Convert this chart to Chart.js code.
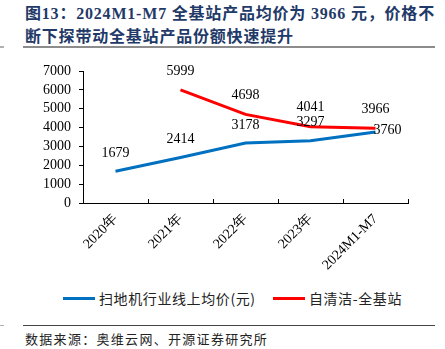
<!DOCTYPE html>
<html>
<head>
<meta charset="utf-8">
<script src="https://cdn.jsdelivr.net/npm/chart.js@4.4.1/dist/chart.umd.min.js"></script>
<style>
    body { margin: 0; width: 445px; height: 349px; background: #fff; position: relative; overflow: hidden; }
    .title {
        position: absolute; left: 25px; top: 2px;
        font: bold 16px "Liberation Serif", "Noto Sans CJK SC", serif;
        letter-spacing: 0.8px; line-height: 23px; color: #1F3A68; white-space: nowrap;
    }
    .rule { position: absolute; left: 23px; width: 412px; background: #8c8c8c; }
    .stub { position: absolute; left: 0; width: 4px; background: #b0b0b0; }
    .source {
        position: absolute; left: 25px; top: 329px;
        font: 13px "Noto Sans CJK SC", sans-serif; letter-spacing: 1.3px; color: #222; white-space: nowrap;
    }
    #wrap { position: absolute; left: 0; top: 50px; width: 445px; height: 232px; }
    .legend { position: absolute; top: 288px; height: 20px; font: 14px "Noto Sans CJK SC", sans-serif;
        letter-spacing: 0.6px; color: #222; line-height: 20px; white-space: nowrap; }
    .legend i { position: absolute; top: 9px; width: 32px; height: 3px; }
    .legend span { position: absolute; top: 0; }
</style>
</head>
<body>
<div class="title">图13：2024M1-M7 全基站产品均价为 3966 元，价格不<br>断下探带动全基站产品份额快速提升</div>
<div class="rule" style="top:46px;height:2px"></div>
<div class="stub" style="top:46px;height:2px"></div>
<div id="wrap"><canvas id="chart"></canvas></div>
<div class="legend" id="legend"></div>
<div class="rule" style="top:325px;height:1px;background:#444"></div>
<div class="stub" style="top:325px;height:1px"></div>
<div class="source">数据来源：奥维云网、开源证券研究所</div>

<script>
// Data
const categories = ['2020年', '2021年', '2022年', '2023年', '2024M1-M7'];
const avgPrice = [1679, 2414, 3178, 3297, 3760];        // 扫地机行业线上均价(元)
const baseStation = [null, 5999, 4698, 4041, 3966];      // 自清洁-全基站
const yMin = 0;
const yMax = 7000;
const yStep = 1000;

const SERIF = '"Liberation Serif", "Times New Roman", serif';

// value labels above points (last blue one sits to the right)
const valueLabels = {
    id: 'valueLabels',
    afterDatasetsDraw(chart) {
        const ctx = chart.ctx;
        ctx.save();
        ctx.font = '14px ' + SERIF;
        ctx.fillStyle = '#000';
        ctx.textAlign = 'center';
        ctx.textBaseline = 'middle';
        chart.data.datasets.forEach((ds, di) => {
            const meta = chart.getDatasetMeta(di);
            meta.data.forEach((pt, i) => {
                const v = ds.data[i];
                if (v == null) return;
                let dx = 0, dy = -18;
                if (di === 0 && i === ds.data.length - 1) { dx = 12; dy = -2; }
                if (di === 1) dy = -19;
                ctx.fillText(String(v), pt.x + dx, pt.y + dy);
            });
        });
        ctx.restore();
    }
};

// small category tick marks pointing up from the x axis
const xTickMarks = {
    id: 'xTickMarks',
    afterDraw(chart) {
        const x = chart.scales.x;
        const ctx = chart.ctx;
        const n = categories.length;
        const step = (x.right - x.left) / n;
        ctx.save();
        ctx.strokeStyle = '#000';
        ctx.lineWidth = 1;
        ctx.beginPath();
        for (let i = 1; i <= n; i++) {
            const px = Math.round(x.left + i * step) + 0.5;
            ctx.moveTo(px, x.top);
            ctx.lineTo(px, x.top - 4);
        }
        ctx.stroke();
        ctx.restore();
    }
};

const chart = new Chart(document.getElementById('chart'), {
    type: 'line',
    data: {
        labels: categories,
        datasets: [
            {
                label: '扫地机行业线上均价(元)',
                data: avgPrice,
                borderColor: '#0070C0',
                backgroundColor: '#0070C0',
                borderWidth: 3,
                pointRadius: 0,
                tension: 0
            },
            {
                label: '自清洁-全基站',
                data: baseStation,
                borderColor: '#FF0000',
                backgroundColor: '#FF0000',
                borderWidth: 3,
                pointRadius: 0,
                tension: 0
            }
        ]
    },
    options: {
        responsive: true,
        maintainAspectRatio: false,
        animation: false,
        layout: { padding: { left: 0, right: 37, top: 21, bottom: 0 } },
        plugins: {
            tooltip: { enabled: false },
            legend: { display: false }
        },
        scales: {
            x: {
                offset: true,
                grid: { drawOnChartArea: false, drawTicks: false, offset: true },
                border: { display: true, color: '#000', width: 1 },
                ticks: {
                    color: '#000',
                    font: { family: SERIF, size: 14 },
                    minRotation: 45,
                    maxRotation: 45,
                    padding: 8
                },
                afterFit(scale) { scale.height = 79; }
            },
            y: {
                min: yMin,
                max: yMax,
                grid: { drawOnChartArea: false, drawTicks: true, tickLength: 4, color: '#000' },
                border: { display: true, color: '#000', width: 1 },
                ticks: {
                    stepSize: yStep,
                    autoSkip: false,
                    color: '#000',
                    padding: 8,
                    font: { family: SERIF, size: 14 },
                    callback: v => String(v)
                },
                afterFit(scale) { scale.width = 83; }
            }
        }
    },
    plugins: [valueLabels, xTickMarks]
});

// HTML legend built from the datasets
const legendEl = document.getElementById('legend');
const legendX = [63, 273];
chart.data.datasets.forEach((ds, i) => {
    legendEl.innerHTML += `<i style="left:${legendX[i]}px;background:${ds.borderColor}"></i>` +
        `<span style="left:${legendX[i] + 36}px">${ds.label}</span>`;
});
</script>
</body>
</html>
